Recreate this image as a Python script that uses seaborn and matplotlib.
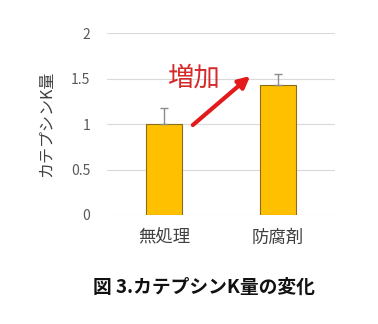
import matplotlib
matplotlib.use("Agg")
import matplotlib.pyplot as plt
import seaborn as sns
import pandas as pd

categories = ["無処理", "防腐剤"]
values = [1.00, 1.43]
err_up = [0.18, 0.12]
y_ticks = [0, 0.5, 1, 1.5, 2]
y_tick_labels = ["0", "0.5", "1", "1.5", "2"]
y_label = "カテプシンK量"
annotation = "増加"
title = "図 3.カテプシンK量の変化"

sns.set_style("white")
plt.rcParams['font.family'] = ['Noto Sans CJK JP', 'DejaVu Sans']

df = pd.DataFrame({"cat": categories, "val": values})

fig = plt.figure(figsize=(3.78, 3.24), dpi=100)
ax = fig.add_axes([107/378, 1-215/324, 228/378, (215-33.3)/324])

sns.barplot(data=df, x="cat", y="val", ax=ax, color="#FFC000", width=0.31,
            saturation=1, edgecolor="#8a6d1a", linewidth=0.8, errorbar=None, zorder=3)

xs = [p.get_x() + p.get_width()/2 for p in ax.patches]
ax.errorbar(xs, values, yerr=[[0]*len(values), err_up], fmt="none",
            ecolor="#8c8c8c", elinewidth=1.0, capsize=3, capthick=1.0, zorder=4)

ax.set_ylim(0, 2)
ax.set_xlim(-0.5, 1.5)
ax.set_yticks(y_ticks)
ax.set_yticklabels(y_tick_labels)
ax.yaxis.grid(True, color="#d9d9d9", linewidth=0.8, zorder=0)
ax.set_axisbelow(True)
for s in ax.spines.values():
    s.set_visible(False)
ax.tick_params(axis="y", length=0, pad=12, labelsize=10, labelcolor="#595959")
ax.tick_params(axis="x", length=0, pad=10, labelsize=12.5, labelcolor="#404040")
ax.set_xlabel("")
ax.set_ylabel(y_label, fontsize=11.5, color="#404040")
ax.yaxis.set_label_coords(-0.228, 0.5)

ax.annotate("", xy=(0.756, 1.53), xytext=(0.253, 0.99),
            arrowprops=dict(arrowstyle="-|>", color="#e31a1c", lw=3,
                            mutation_scale=17, shrinkA=0, shrinkB=0))
ax.text(0.255, 1.51, annotation, color="#d42a2a", fontsize=19,
        ha="center", va="center")

fig.text(204/378, 1-287/324, title, ha="center", va="center",
         fontsize=13.5, fontweight="bold", color="#111111")

fig.savefig("out.png", dpi=100, facecolor="white")
